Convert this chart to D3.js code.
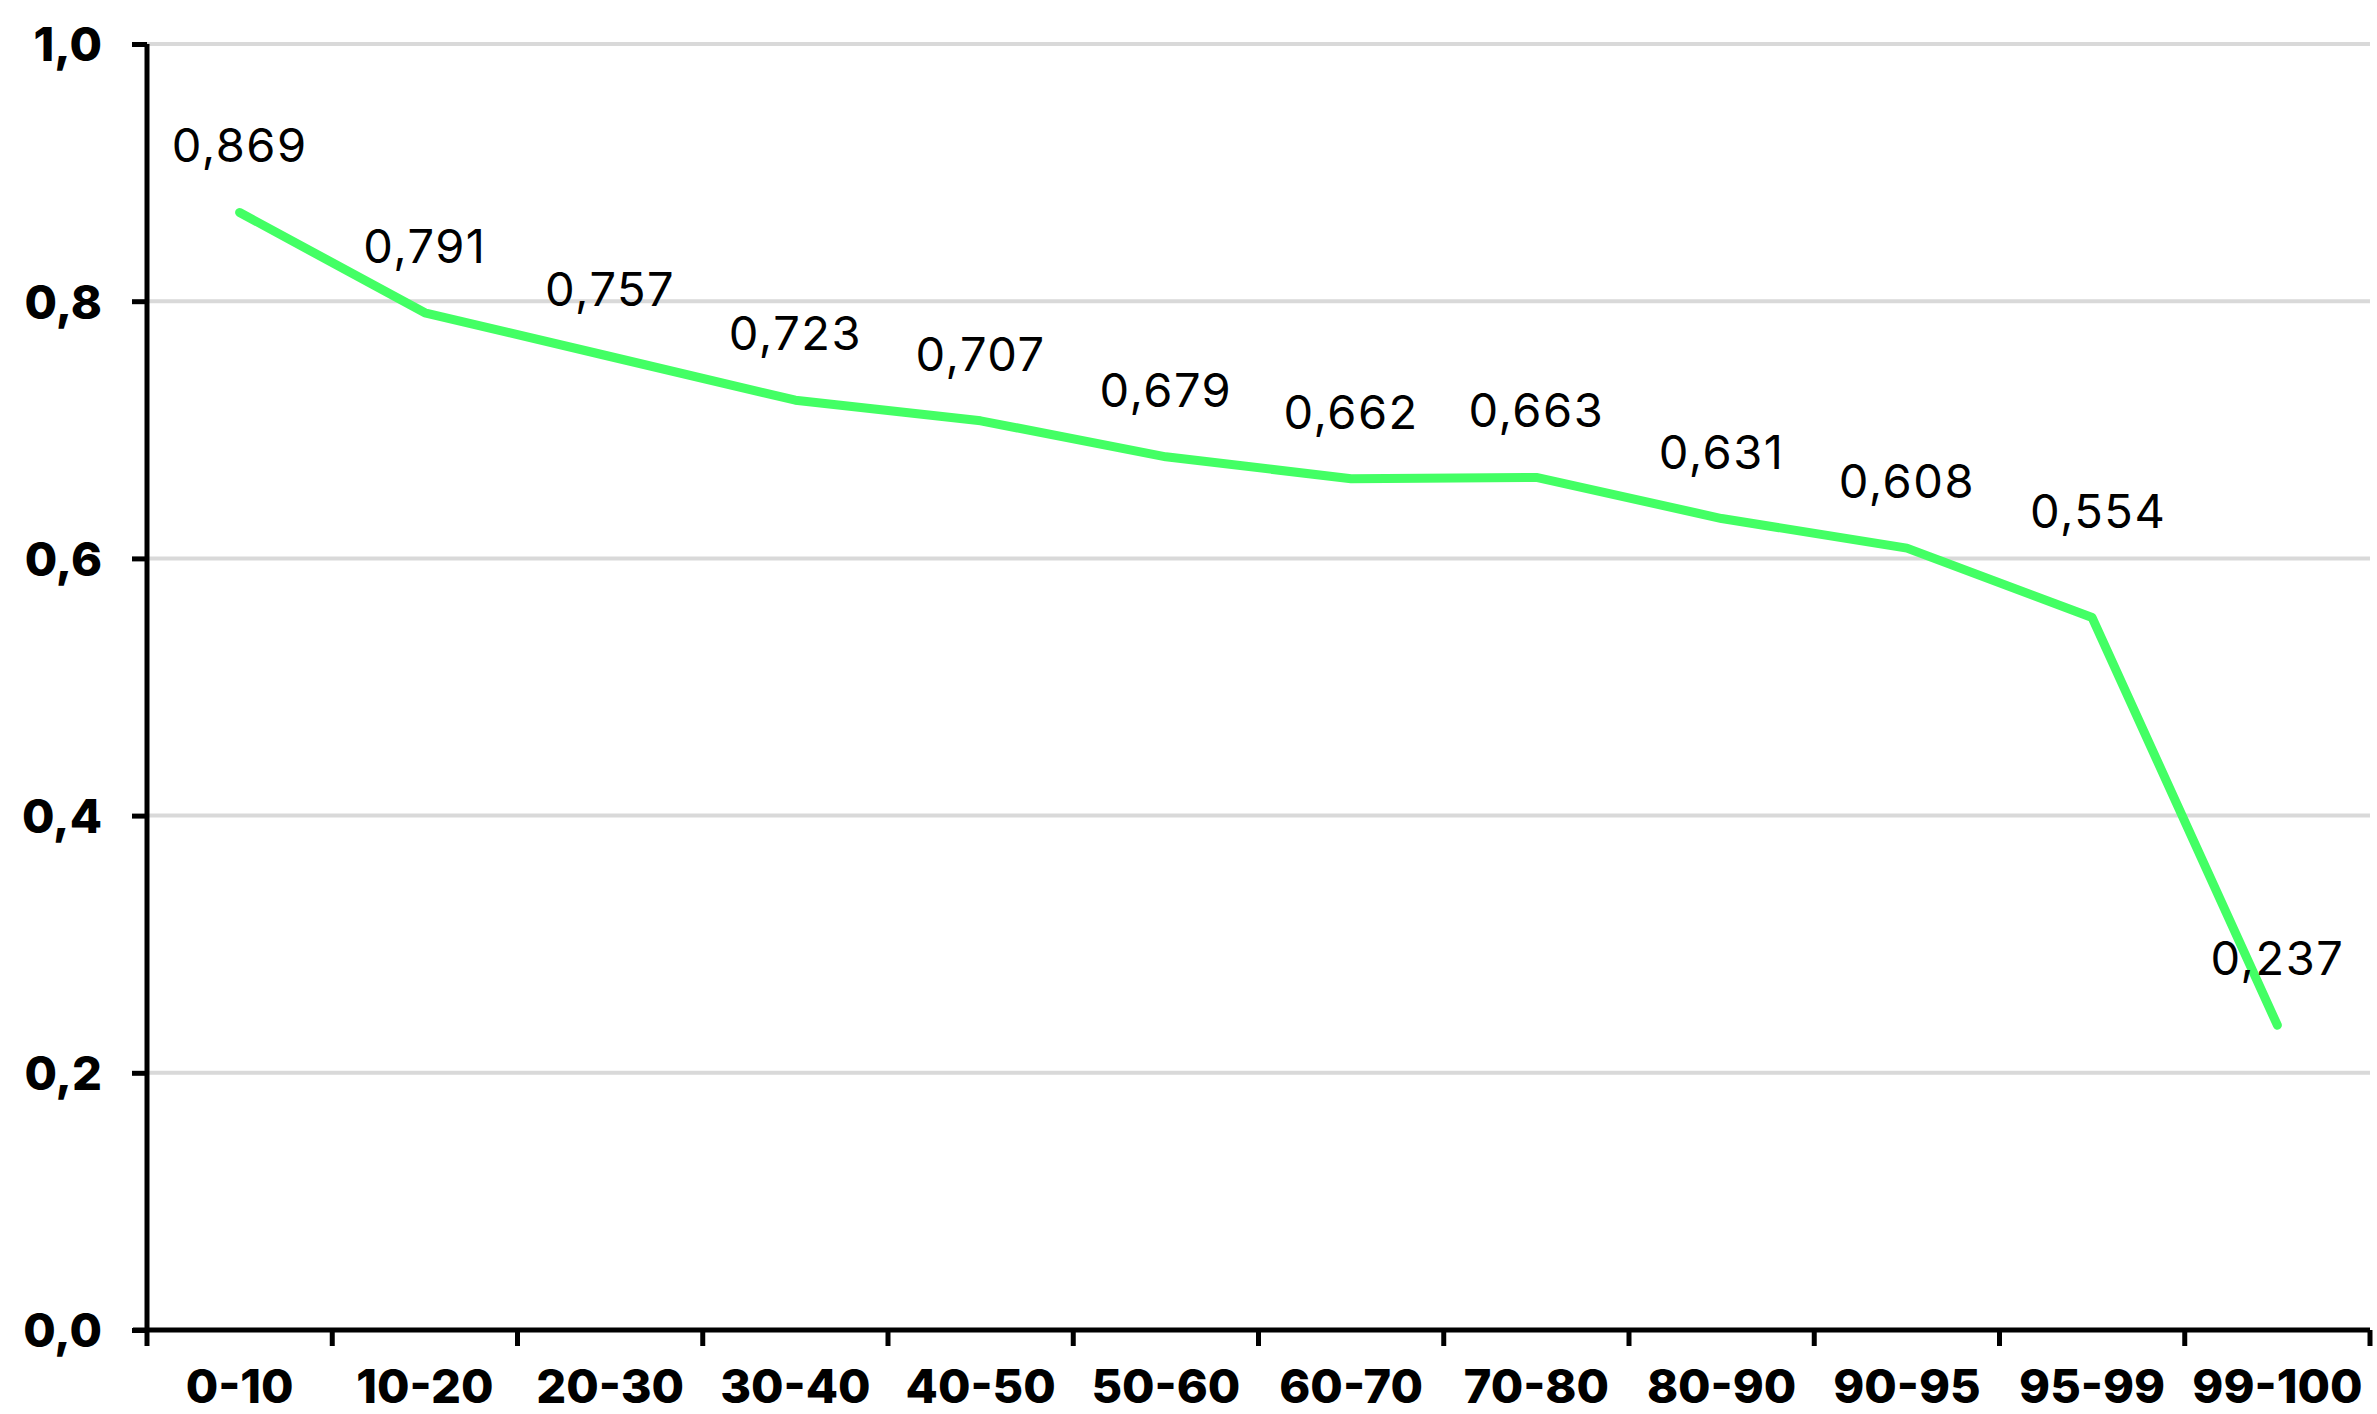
<!DOCTYPE html>
<html>
<head>
<meta charset="utf-8">
<script src="https://cdn.jsdelivr.net/npm/d3@7"></script>
<style>
html,body{margin:0;padding:0;background:#fff;}
svg{display:block;}
</style>
</head>
<body>
<script>
const categories = ["0-10","10-20","20-30","30-40","40-50","50-60","60-70","70-80","80-90","90-95","95-99","99-100"];
const values = [0.869,0.791,0.757,0.723,0.707,0.679,0.662,0.663,0.631,0.608,0.554,0.237];
const yTicks = [0,0.2,0.4,0.6,0.8,1.0];
const labelFmt = d => d.toFixed(3).replace(".", ",");
const tickFmt = d => d.toFixed(1).replace(".", ",");
// manual nudges for individual data labels (by category)
const labelNudge = {"95-99": {dx: 6, dy: -40}};

const W = 2377, H = 1414;
const margin = {left:147, right:7, top:44, bottom:84};

const svg = d3.select("body").append("svg").attr("width", W).attr("height", H);

const x = d3.scaleBand().domain(categories).range([margin.left, W - margin.right]);
const y = d3.scaleLinear().domain([0,1]).range([H - margin.bottom, margin.top]);

// gridlines
svg.append("g").selectAll("line").data(yTicks.filter(d => d > 0)).join("line")
  .attr("x1", margin.left).attr("x2", W - margin.right)
  .attr("y1", d => y(d)).attr("y2", d => y(d))
  .attr("stroke", "#d9d9d9").attr("stroke-width", 4);

// y axis
const yAxis = svg.append("g").attr("transform", `translate(${margin.left},0)`)
  .call(d3.axisLeft(y).tickValues(yTicks).tickFormat(tickFmt).tickSize(15).tickPadding(30));
yAxis.select(".domain").attr("stroke", "#000").attr("stroke-width", 5)
  .attr("d", `M0,${y(1)}V${y(0)}`);
yAxis.selectAll(".tick line").attr("stroke", "#000").attr("stroke-width", 5);
yAxis.selectAll(".tick text").attr("font-family", "Inter, sans-serif").attr("font-weight", 800)
  .attr("font-size", 47).attr("fill", "#000").attr("dy", "0.36em");

// x axis
const xAxis = svg.append("g").attr("transform", `translate(0,${y(0)})`)
  .call(d3.axisBottom(x).tickSize(0).tickPadding(40));
xAxis.select(".domain").attr("stroke", "#000").attr("stroke-width", 5)
  .attr("d", `M${margin.left - 14},0H${W - margin.right}`);
xAxis.selectAll(".tick text").attr("font-family", "Inter, sans-serif").attr("font-weight", 800)
  .attr("font-size", 47).attr("fill", "#000").attr("dy", "0.71em");
// boundary ticks between bands
const bounds = categories.map(c => x(c)).concat([x.range()[1]]);
xAxis.append("g").selectAll("line").data(bounds).join("line")
  .attr("x1", d => d).attr("x2", d => d).attr("y1", 0).attr("y2", 16)
  .attr("stroke", "#000").attr("stroke-width", 5);

// line
const pts = categories.map((c, i) => ({c, v: values[i]}));
const line = d3.line().x(d => x(d.c) + x.bandwidth()/2).y(d => y(d.v));
svg.append("path").datum(pts).attr("d", line)
  .attr("fill", "none").attr("stroke", "#43ff64").attr("stroke-width", 9)
  .attr("stroke-linecap", "round").attr("stroke-linejoin", "round");

// labels
svg.append("g").selectAll("text").data(pts).join("text")
  .attr("x", d => x(d.c) + x.bandwidth()/2 + ((labelNudge[d.c] || {}).dx || 0))
  .attr("y", d => y(d.v) - 50 + ((labelNudge[d.c] || {}).dy || 0))
  .attr("text-anchor", "middle")
  .attr("font-family", "Inter, sans-serif").attr("font-weight", 400)
  .attr("font-size", 47).attr("letter-spacing", 1.5).attr("fill", "#000")
  .text(d => labelFmt(d.v));
</script>
</body>
</html>
